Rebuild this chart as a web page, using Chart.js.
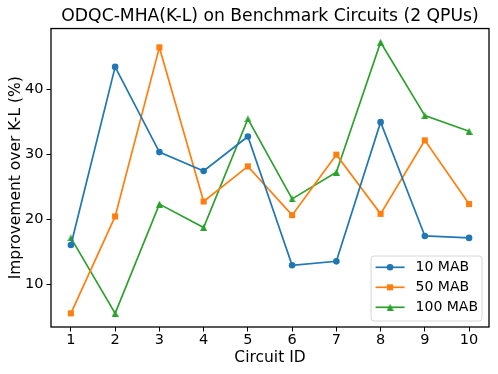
<!DOCTYPE html>
<html>
<head>
<meta charset="utf-8">
<script src="https://cdn.jsdelivr.net/npm/chart.js@4.4.1/dist/chart.umd.min.js"></script>
<style>
  html, body { margin: 0; padding: 0; background: #fff; }
  #wrap { width: 498px; height: 374px; }
</style>
</head>
<body>
<div id="wrap"><canvas id="myChart" width="498" height="374"></canvas></div>
<script>
// values
const circuitIds = [1, 2, 3, 4, 5, 6, 7, 8, 9, 10];
const mab10 = [16.0, 43.4, 30.3, 27.4, 32.7, 12.9, 13.5, 34.9, 17.4, 17.1];
const mab50 = [5.5, 20.4, 46.4, 22.7, 28.1, 20.6, 29.9, 20.8, 32.1, 22.3];
const mab100 = [17.1, 5.5, 22.3, 18.7, 35.4, 23.1, 27.2, 47.2, 35.9, 33.5];
const yTicks = [10, 20, 30, 40];

const FONT = 'DejaVu Sans';
Chart.defaults.color = '#000';
Chart.defaults.font.family = FONT;

// matplotlib style '^' marker: as wide as it is tall, centred on its box
function triangleMarker(color, size) {
  const c = document.createElement('canvas');
  c.width = size;
  c.height = size;
  const g = c.getContext('2d');
  g.fillStyle = color;
  g.beginPath();
  g.moveTo(size / 2, 0);
  g.lineTo(size, size);
  g.lineTo(0, size);
  g.closePath();
  g.fill();
  return c;
}

function toPoints(values) {
  return circuitIds.map((id, i) => ({ x: id, y: values[i] }));
}

function series(label, values, color, style, radius) {
  return {
    label: label,
    data: toPoints(values),
    borderColor: color,
    backgroundColor: color,
    borderWidth: 1.7,
    pointStyle: style,
    pointRadius: radius,
    pointHoverRadius: radius,
    pointBorderWidth: 0,
    tension: 0,
    clip: false
  };
}

const datasets = [
  series('10 MAB', mab10, '#1f77b4', 'circle', 3.3),
  series('50 MAB', mab50, '#ff7f0e', 'rect', 4.3),
  series('100 MAB', mab100, '#2ca02c', triangleMarker('#2ca02c', 7), 3.5)
];

// axes frame on all four sides, like matplotlib spines
const frame = {
  id: 'frame',
  afterDatasetsDraw(chart) {
    const { ctx, chartArea: a } = chart;
    ctx.save();
    ctx.strokeStyle = '#000';
    ctx.lineWidth = 1.3;
    ctx.strokeRect(a.left, a.top, a.right - a.left, a.bottom - a.top);
    ctx.restore();
  }
};

function marker(ctx, style, x, y, r) {
  if (style instanceof HTMLCanvasElement) {
    ctx.drawImage(style, x - style.width / 2, y - style.height / 2);
    return;
  }
  ctx.beginPath();
  if (style === 'circle') {
    ctx.arc(x, y, r, 0, Math.PI * 2);
  } else {
    const s = r * Math.SQRT1_2;
    ctx.rect(x - s, y - s, 2 * s, 2 * s);
  }
  ctx.fill();
}

// legend box in the lower right corner of the axes
const boxLegend = {
  id: 'boxLegend',
  afterDraw(chart) {
    const { ctx, chartArea: a } = chart;
    const sets = chart.data.datasets;
    ctx.save();
    ctx.font = '14px "' + FONT + '"';
    const textW = Math.max(...sets.map(d => ctx.measureText(d.label).width));
    const w = 4.5 + 29 + 11 + textW + 4;
    const h = 65;
    const x = a.right - 7 - w;
    const y = a.bottom - 6 - h;

    ctx.globalAlpha = 0.8;
    ctx.fillStyle = '#fff';
    ctx.beginPath();
    ctx.roundRect(x, y, w, h, 3);
    ctx.fill();
    ctx.globalAlpha = 1;
    ctx.strokeStyle = '#d6d6d6';
    ctx.lineWidth = 1;
    ctx.stroke();

    sets.forEach((d, i) => {
      const cy = y + 11.3 + i * 20;
      ctx.strokeStyle = d.borderColor;
      ctx.fillStyle = d.borderColor;
      ctx.lineWidth = 1.7;
      ctx.beginPath();
      ctx.moveTo(x + 4.5, cy);
      ctx.lineTo(x + 33.5, cy);
      ctx.stroke();
      marker(ctx, d.pointStyle, x + 19, cy, d.pointRadius);
      ctx.fillStyle = '#000';
      ctx.textBaseline = 'middle';
      ctx.textAlign = 'left';
      ctx.fillText(d.label, x + 44.5, cy + 0.5);
    });
    ctx.restore();
  }
};

const ctx = document.getElementById('myChart').getContext('2d');

const myChart = new Chart(ctx, {
  type: 'line',
  data: { datasets: datasets },
  options: {
    responsive: false,
    animation: false,
    layout: { padding: { left: 0, right: 9, top: 0, bottom: 0 } },
    plugins: {
      legend: { display: false },
      tooltip: { enabled: false },
      title: {
        display: true,
        text: 'ODQC-MHA(K-L) on Benchmark Circuits (2 QPUs)',
        fullSize: false,
        color: '#000',
        font: { family: FONT, size: 17.2, weight: 'normal' },
        padding: { top: 6.5, bottom: 1.4 }
      }
    },
    scales: {
      x: {
        type: 'linear',
        min: 0.55,
        max: 10.45,
        afterBuildTicks: scale => { scale.ticks = circuitIds.map(v => ({ value: v })); },
        afterFit: scale => { scale.height = 47; },
        grid: { drawOnChartArea: false, drawTicks: true, tickLength: 4.5, color: '#000' },
        border: { display: false },
        ticks: { font: { size: 14.5 }, padding: 0.5, maxRotation: 0, autoSkip: false },
        title: {
          display: true,
          text: 'Circuit ID',
          font: { size: 15.5 },
          padding: { top: 0, bottom: 7.2 }
        }
      },
      y: {
        type: 'linear',
        min: 3.4,
        max: 49.3,
        afterBuildTicks: scale => { scale.ticks = yTicks.map(v => ({ value: v })); },
        afterFit: scale => { scale.width = 51; },
        grid: { drawOnChartArea: false, drawTicks: true, tickLength: 4.5, color: '#000' },
        border: { display: false },
        ticks: { font: { size: 14.5 }, padding: 3 },
        title: {
          display: true,
          text: 'Improvement over K-L (%)',
          font: { size: 15.5 },
          padding: { top: 6.2, bottom: 0 }
        }
      }
    }
  },
  plugins: [frame, boxLegend]
});
</script>
</body>
</html>
